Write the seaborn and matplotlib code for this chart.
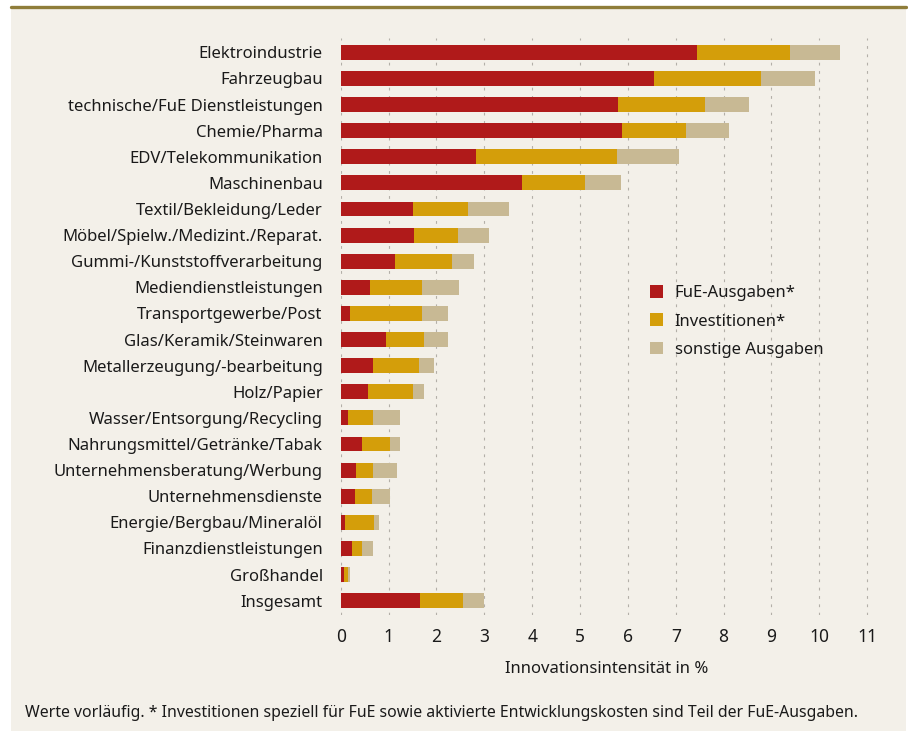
import numpy as np
import pandas as pd
import matplotlib
matplotlib.use('Agg')
import matplotlib.pyplot as plt
import seaborn as sns
from matplotlib.patches import Rectangle
from matplotlib.lines import Line2D

# Branchen (von oben nach unten)
branchen = [
    'Elektroindustrie', 'Fahrzeugbau', 'technische/FuE Dienstleistungen',
    'Chemie/Pharma', 'EDV/Telekommunikation', 'Maschinenbau',
    'Textil/Bekleidung/Leder', 'Möbel/Spielw./Medizint./Reparat.',
    'Gummi-/Kunststoffverarbeitung', 'Mediendienstleistungen',
    'Transportgewerbe/Post', 'Glas/Keramik/Steinwaren',
    'Metallerzeugung/-bearbeitung', 'Holz/Papier',
    'Wasser/Entsorgung/Recycling', 'Nahrungsmittel/Getränke/Tabak',
    'Unternehmensberatung/Werbung', 'Unternehmensdienste',
    'Energie/Bergbau/Mineralöl', 'Finanzdienstleistungen',
    'Großhandel', 'Insgesamt',
]

# Anteile in %
fue = [7.45, 6.54, 5.79, 5.88, 2.83, 3.79, 1.52, 1.54, 1.14, 0.62, 0.20,
       0.95, 0.68, 0.56, 0.16, 0.45, 0.33, 0.29, 0.10, 0.24, 0.06, 1.66]
investitionen = [1.94, 2.24, 1.82, 1.34, 2.95, 1.31, 1.14, 0.91, 1.19, 1.08, 1.50,
                 0.80, 0.96, 0.96, 0.52, 0.57, 0.35, 0.37, 0.60, 0.21, 0.10, 0.90]
sonstige = [1.04, 1.13, 0.92, 0.89, 1.29, 0.76, 0.86, 0.65, 0.46, 0.78, 0.55,
            0.50, 0.31, 0.23, 0.56, 0.22, 0.50, 0.38, 0.11, 0.23, 0.04, 0.44]

df = pd.DataFrame({'Branche': branchen, 'fue': fue,
                   'inv': investitionen, 'sonst': sonstige})
df['fue_inv'] = df['fue'] + df['inv']
df['gesamt'] = df['fue_inv'] + df['sonst']

BG = '#f3f0e9'
ROT = '#b01a1a'
GOLD = '#d49e0a'
BEIGE = '#c8b994'
TXT = '#1a1a1a'

sns.set_theme(style='white')
plt.rcParams['font.family'] = ['Noto Sans', 'DejaVu Sans']

fig = plt.figure(figsize=(9.08, 7.31), dpi=100, facecolor='white')
# Hintergrundfläche und Linie oben
fig.add_artist(Rectangle((11 / 908, 0), (906 - 11) / 908, 1 - 8 / 731,
                         transform=fig.transFigure, facecolor=BG,
                         edgecolor='none', zorder=-10))
fig.add_artist(Line2D([11 / 908, 906 / 908], [1 - 7 / 731, 1 - 7 / 731],
                      transform=fig.transFigure, color='#8f7d3a', lw=2.4))

ax = fig.add_axes([340.7 / 908, 1 - 615 / 731, (872 - 340.7) / 908, (615 - 38) / 731])
ax.set_facecolor('none')

# gestapelte Balken: gesamt hinten, darüber FuE+Inv, dann FuE
sns.barplot(data=df, y='Branche', x='gesamt', color=BEIGE, width=0.57,
            saturation=1, linewidth=0, ax=ax, label='sonstige Ausgaben', zorder=3)
sns.barplot(data=df, y='Branche', x='fue_inv', color=GOLD, width=0.57,
            saturation=1, linewidth=0, ax=ax, label='Investitionen*', zorder=3)
sns.barplot(data=df, y='Branche', x='fue', color=ROT, width=0.57,
            saturation=1, linewidth=0, ax=ax, label='FuE-Ausgaben*', zorder=3)

ax.set_xlim(0, 11.1)
ax.set_ylim(21.55, -0.55)
ax.set_xticks(range(0, 12))
ax.xaxis.grid(True, color='#b3afa8', linestyle=(0, (2.5, 5)), lw=0.8, zorder=0)
ax.yaxis.grid(False)
for s in ax.spines.values():
    s.set_visible(False)
ax.tick_params(axis='y', length=0, pad=13, labelsize=12, colors=TXT)
ax.tick_params(axis='x', length=0, pad=9, labelsize=12.5, colors=TXT)
ax.set_ylabel('')
ax.set_xlabel('Innovationsintensität in %', fontsize=12, color=TXT, labelpad=11)

handles, labels = ax.get_legend_handles_labels()
order = [2, 1, 0]
ax.legend([handles[i] for i in order], [labels[i] for i in order],
          loc='upper left', bbox_to_anchor=(0.569, 0.583), frameon=False,
          fontsize=12, handlelength=0.8, handleheight=0.8, handletextpad=0.7,
          labelspacing=0.72, labelcolor=TXT, borderaxespad=0)

fig.text(25 / 908, 1 - 713 / 731,
         'Werte vorläufig. * Investitionen speziell für FuE sowie aktivierte '
         'Entwicklungskosten sind Teil der FuE-Ausgaben.',
         fontsize=11.4, color=TXT, va='center', ha='left')

fig.savefig('out.png', dpi=100, facecolor='white')
